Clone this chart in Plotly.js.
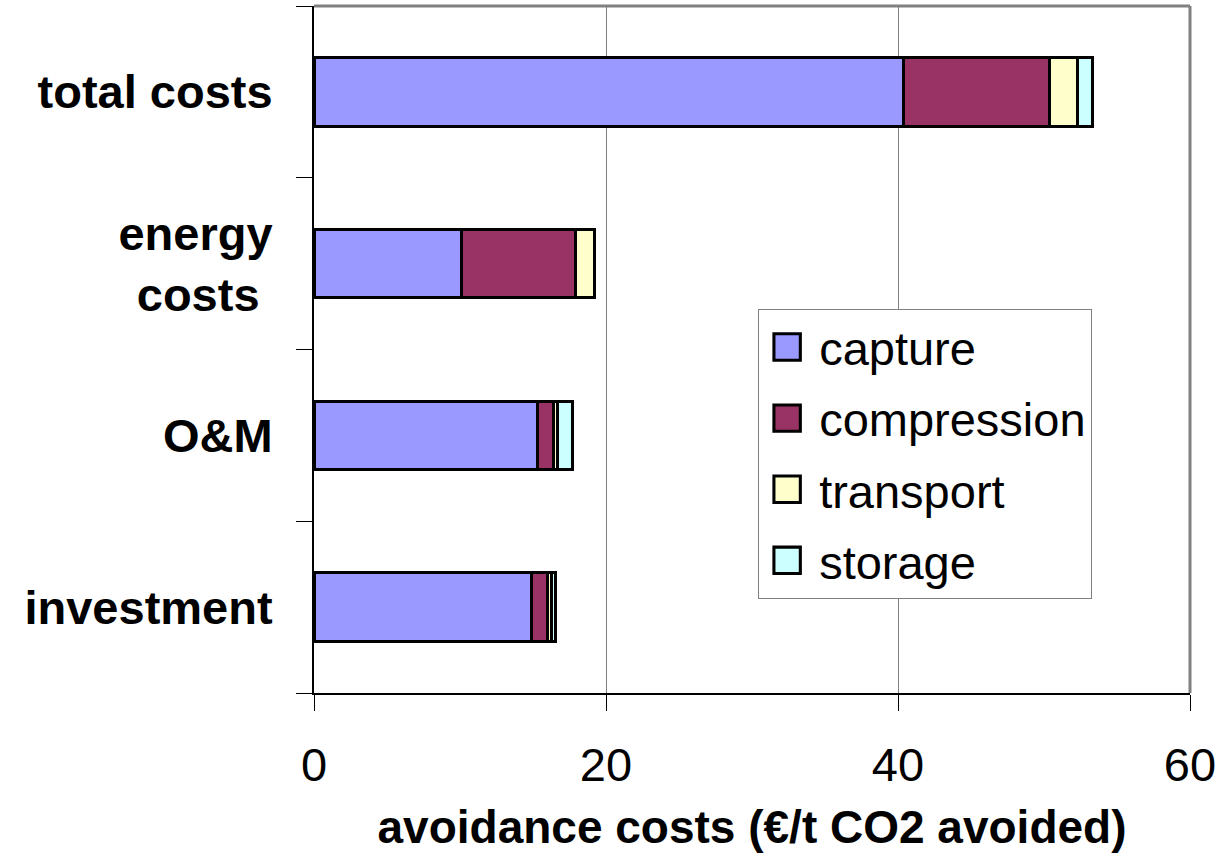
<!DOCTYPE html>
<html>
<head>
<meta charset="utf-8">
<script src="https://cdn.plot.ly/plotly-3.0.1.min.js"></script>
<style>
  html, body { margin: 0; padding: 0; background: #ffffff; }
  #chart { width: 1224px; height: 858px; }
</style>
</head>
<body>
<div id="chart"></div>
<script>
// Cost categories, bottom to top
const categories = ['investment', 'O&M', 'energy costs', 'total costs'];
const categoryLabels = ['investment', 'O&M', 'energy<br>costs&nbsp;', 'total costs'];

// Avoidance cost components (€/t CO2 avoided), per category
const capture     = [14.9, 15.3, 10.1, 40.4];
const compression = [1.1, 1.1, 7.8, 10.0];
const transport   = [0.25, 0.3, 1.3, 1.9];
const storage     = [0.3, 1.0, 0.0, 1.0];

const seriesNames = ['capture', 'compression', 'transport', 'storage'];
const seriesColors = ['#9999FF', '#993366', '#FFFFCC', '#CCFFFF'];
const seriesValues = [capture, compression, transport, storage];

const xTicks = [0, 20, 40, 60];

const traces = seriesValues.map((vals, i) => ({
  type: 'bar',
  orientation: 'h',
  name: seriesNames[i],
  legendgroup: seriesNames[i],
  x: vals,
  y: categories,
  width: 0.4,
  marker: { color: seriesColors[i], line: { color: '#000000', width: 3 } },
  hoverinfo: 'x+name'
}));

const layout = {
  width: 1224,
  height: 858,
  margin: { l: 314, r: 34, t: 6, b: 165 },
  paper_bgcolor: '#ffffff',
  plot_bgcolor: '#ffffff',
  barmode: 'stack',
  font: { family: 'Liberation Sans, Arial, sans-serif', color: '#000000' },
  showlegend: true,
  legend: {
    x: 0.507, y: 0.559, xanchor: 'left', yanchor: 'top',
    bgcolor: '#ffffff',
    bordercolor: '#808080', borderwidth: 1,
    font: { size: 47, color: '#000000' },
    traceorder: 'grouped',
    tracegroupgap: 7,
    itemwidth: 50,
    itemsizing: 'constant'
  },
  xaxis: {
    range: [0, 60],
    tickvals: xTicks,
    ticktext: xTicks.map(String),
    ticks: 'outside', ticklen: 16, tickcolor: '#000000', tickwidth: 1,
    showgrid: true, gridcolor: '#808080', gridwidth: 1,
    showline: true, linecolor: '#000000', linewidth: 2,
    zeroline: false,
    tickfont: { size: 47 },
    ticklabelstandoff: 14,
    title: { text: '<b>avoidance costs (€/t CO2 avoided)</b>', font: { size: 46 }, standoff: 20 }
  },
  yaxis: {
    type: 'category',
    categoryorder: 'array',
    categoryarray: categories,
    range: [-0.5, 3.5],
    tickson: 'boundaries',
    ticks: 'outside', ticklen: 16, tickcolor: '#000000', tickwidth: 1,
    showgrid: false,
    showline: true, linecolor: '#000000', linewidth: 2,
    zeroline: false,
    tickfont: { size: 47 },
    tickvals: categories,
    ticktext: categoryLabels.map(c => '<b>' + c + '</b>'),
    ticklabelstandoff: 30
  },
  shapes: [
    { type: 'line', xref: 'paper', yref: 'paper', x0: 0, x1: 1, y0: 1, y1: 1,
      line: { color: '#808080', width: 3 } },
    { type: 'line', xref: 'paper', yref: 'paper', x0: 1, x1: 1, y0: 0, y1: 1,
      line: { color: '#808080', width: 3 } }
  ]
};

Plotly.newPlot('chart', traces, layout, { displayModeBar: false, staticPlot: true }).then(gd => {
  // Enlarge the legend swatches and centre them in the wider symbol column
  gd.querySelectorAll('.legend .legendpoints path').forEach(p => {
    p.setAttribute('transform', 'translate(28,0) scale(2.2)');
    p.style.strokeWidth = '1.4px';
  });
});
</script>
</body>
</html>
